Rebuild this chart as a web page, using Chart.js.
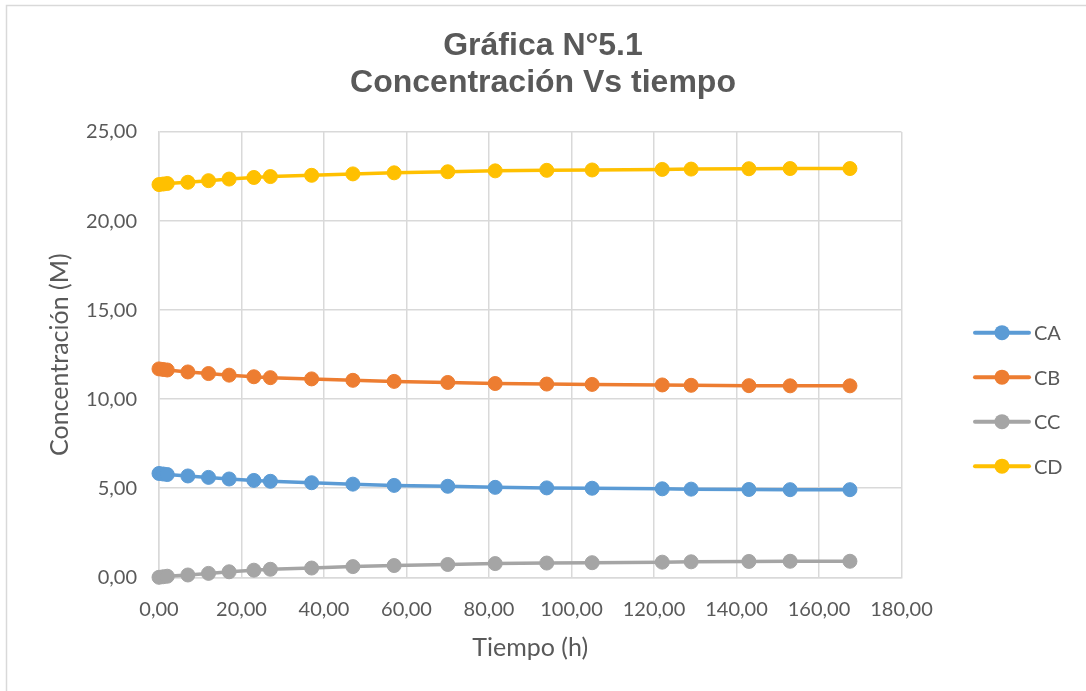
<!DOCTYPE html>
<html>
<head>
<meta charset="utf-8">
<title>Gráfica N°5.1</title>
<script src="https://cdn.jsdelivr.net/npm/chart.js@4.4.0/dist/chart.umd.min.js"></script>
<style>
  html, body { margin: 0; padding: 0; background: #ffffff; }
  #wrap { width: 1086px; height: 691px; position: relative; }
</style>
</head>
<body>
<div id="wrap"><canvas id="chart" width="1086" height="691"></canvas></div>
<script>
// Tiempo de muestreo (h)
const tiempo = [0, 1, 2, 7, 12, 17, 23, 27, 37, 47, 57, 70, 81.5, 94, 105, 122, 129, 143, 153, 167.5];

// Concentraciones (M) de cada especie
const concA = [5.83, 5.80, 5.77, 5.69, 5.61, 5.52, 5.44, 5.39, 5.31, 5.23, 5.16, 5.11, 5.05, 5.02, 5.00, 4.97, 4.95, 4.93, 4.92, 4.92];
const concB = [11.70, 11.67, 11.64, 11.53, 11.44, 11.35, 11.26, 11.21, 11.14, 11.06, 11.00, 10.94, 10.88, 10.85, 10.83, 10.80, 10.78, 10.76, 10.75, 10.75];
const concC = [0.00, 0.03, 0.06, 0.13, 0.22, 0.31, 0.40, 0.45, 0.52, 0.60, 0.66, 0.72, 0.77, 0.80, 0.82, 0.85, 0.87, 0.89, 0.90, 0.90];
const concD = [22.05, 22.08, 22.11, 22.18, 22.27, 22.36, 22.45, 22.50, 22.57, 22.65, 22.71, 22.77, 22.82, 22.85, 22.87, 22.90, 22.92, 22.94, 22.95, 22.95];

const seriesNames = ['CA', 'CB', 'CC', 'CD'];
const seriesValues = [concA, concB, concC, concD];

// Ejes
const xTickMin = 0, xTickMax = 180, xTickStep = 20;
const yTickMin = 0, yTickMax = 25, yTickStep = 5;

const palette = ['#5B9BD5', '#ED7D31', '#A5A5A5', '#FFC000'];
const textGray = '#595959';
const gridGray = '#d9d9d9';
const bodyFont = 'Lato, "Open Sans", sans-serif';

const fmt = v => Number(v).toFixed(2).replace('.', ',');

const datasets = seriesNames.map((name, i) => ({
  label: name,
  data: tiempo.map((t, k) => ({ x: t, y: seriesValues[i][k] })),
  borderColor: palette[i],
  backgroundColor: palette[i],
  pointBackgroundColor: palette[i],
  pointBorderColor: palette[i],
  borderWidth: 3.5,
  pointRadius: 7,
  pointBorderWidth: 1,
  pointHoverRadius: 7,
  tension: 0,
  clip: false,
  yAxisID: 'y'
}));

// Marco exterior del gráfico
const framePlugin = {
  id: 'frame',
  beforeDraw(chart) {
    const { ctx, width, height } = chart;
    ctx.save();
    ctx.fillStyle = '#ffffff';
    ctx.fillRect(0, 0, width, height);
    ctx.strokeStyle = gridGray;
    ctx.lineWidth = 1.5;
    ctx.beginPath();
    ctx.moveTo(6.5, height);
    ctx.lineTo(6.5, 5.5);
    ctx.lineTo(width, 5.5);
    ctx.stroke();
    ctx.restore();
  }
};

// Leyenda lateral: línea con marcador y nombre de la serie
const sideLegend = {
  id: 'sideLegend',
  afterDraw(chart) {
    const { ctx, chartArea } = chart;
    const x0 = chartArea.right + 73.5;
    const y0 = chartArea.top + 200.6;
    const gap = 44.5;
    chart.data.datasets.forEach((ds, i) => {
      const y = y0 + i * gap;
      ctx.save();
      ctx.strokeStyle = ds.borderColor;
      ctx.lineWidth = 4;
      ctx.lineCap = 'round';
      ctx.beginPath();
      ctx.moveTo(x0, y);
      ctx.lineTo(x0 + 54, y);
      ctx.stroke();
      ctx.fillStyle = ds.backgroundColor;
      ctx.beginPath();
      ctx.arc(x0 + 27, y, 7.5, 0, Math.PI * 2);
      ctx.fill();
      ctx.fillStyle = textGray;
      ctx.font = '20px ' + bodyFont;
      ctx.textAlign = 'left';
      ctx.textBaseline = 'middle';
      ctx.fillText(ds.label, x0 + 59, y + 1);
      ctx.restore();
    });
  }
};

new Chart(document.getElementById('chart'), {
  type: 'line',
  data: { datasets },
  plugins: [framePlugin, sideLegend],
  options: {
    responsive: false,
    animation: false,
    devicePixelRatio: 1,
    layout: { padding: { top: 5, left: 0, right: 0, bottom: 0 } },
    plugins: {
      legend: { display: false },
      tooltip: { enabled: false },
      title: {
        display: true,
        text: ['Gráfica N°5.1', 'Concentración Vs tiempo'],
        color: textGray,
        font: { family: '"Liberation Sans", Arial, sans-serif', size: 32, weight: 'bold', lineHeight: 1.16 },
        padding: { top: 22.5, bottom: 30.3 }
      }
    },
    scales: {
      x: {
        type: 'linear',
        min: xTickMin,
        max: xTickMax,
        ticks: {
          stepSize: xTickStep,
          callback: v => fmt(v),
          color: textGray,
          font: { family: bodyFont, size: 20 },
          padding: 20,
          maxRotation: 0,
          autoSkip: false
        },
        grid: { color: gridGray, lineWidth: 1.5, drawTicks: false },
        border: { color: gridGray, width: 1.5 },
        title: {
          display: true,
          text: 'Tiempo (h)',
          color: textGray,
          font: { family: bodyFont, size: 25 },
          padding: { top: 0, bottom: 28 }
        },
        afterFit(scale) { scale.height = 113.7; }
      },
      y: {
        position: 'left',
        min: yTickMin,
        max: yTickMax,
        ticks: {
          stepSize: yTickStep,
          callback: v => fmt(v),
          color: textGray,
          font: { family: bodyFont, size: 20 },
          padding: 22
        },
        grid: { color: gridGray, lineWidth: 1.5, drawTicks: false },
        border: { color: gridGray, width: 1.5 },
        title: {
          display: true,
          text: 'Concentración (M)',
          color: textGray,
          font: { family: bodyFont, size: 25 },
          padding: { top: 45, bottom: 0 }
        },
        afterFit(scale) { scale.width = 159; }
      },
      // espacio reservado a la derecha para la leyenda
      legendSpace: {
        type: 'linear',
        position: 'right',
        display: true,
        ticks: { display: false },
        grid: { display: false, drawOnChartArea: false },
        border: { display: false },
        afterFit(scale) { scale.width = 184.5; }
      }
    }
  }
});
</script>
</body>
</html>
